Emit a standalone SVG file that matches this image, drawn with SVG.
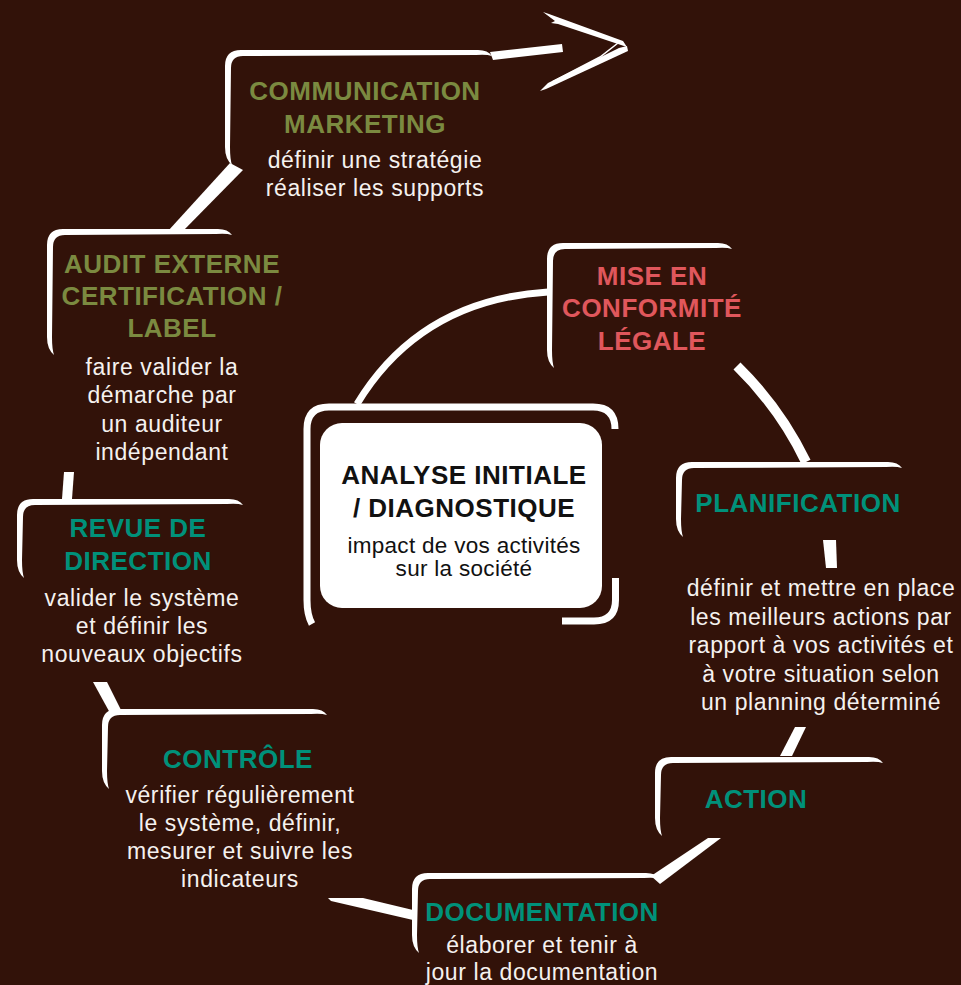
<svg xmlns="http://www.w3.org/2000/svg" width="961" height="985" viewBox="0 0 961 985">
<style>
.h{font-family:"Liberation Sans",Arial,sans-serif;font-weight:bold;font-size:26px;letter-spacing:0.5px;text-anchor:middle}
.b{font-family:"Liberation Sans",Arial,sans-serif;font-size:23px;letter-spacing:0.6px;text-anchor:middle;fill:#f5f1ef}
.olive{fill:#7b8a40}.teal{fill:#00917a}.red{fill:#e0575c}
.br{fill:#ffffff}
.ln{fill:none;stroke:#ffffff;stroke-linecap:butt}
</style>
<rect width="961" height="985" fill="#321209"/>
<g id="connectors">
<polygon class="br" points="490,52 562,44 563,52 493,60"/>
<polygon class="br" points="543,12 549,14 623,41 627,47 558,24 551,23 555,21"/>
<polygon class="br" points="627,46 628,51 546,89 540,91 548,83 619,48"/>
<polyline class="ln" points="618,43 600,57 552,82" stroke-width="1.5"/>
<polygon class="br" points="230,163 243,170 183,231 168,231"/>
<polygon class="br" points="64,472 74,472 72,499 62,499"/>
<polygon class="br" points="93,682 107,682 121,710 110,713"/>
<polygon class="br" points="328,898 363,898 413,910 413,920 331,901"/>
<polygon class="br" points="651,876 708,838 721,838 660,884"/>
<polygon class="br" points="780,756 792,756 806,727 795,727"/>
<polygon class="br" points="823,540 836,540 837,568 826,568"/>
<path class="ln" d="M737,366 Q780,408 806,462" stroke-width="10"/>
<path class="ln" d="M548,292 Q420,300 357,404" stroke-width="7"/>
</g>
<g id="n-communication">
<path class="br" d="M232,165 Q225,159 225,147 L225,66 Q225,50 241,50 L478,50 Q488,50 492,56 Q486,54 476,55 L243,56 Q231,56 231,68 L230,147 Q230,159 232,165 Z"/>
<text class="h olive" x="365" y="100">COMMUNICATION</text>
<text class="h olive" x="365" y="133">MARKETING</text>
<text class="b" x="375" y="168">définir une stratégie</text>
<text class="b" x="375" y="196">réaliser les supports</text>
</g>
<g id="n-audit">
<path class="br" d="M54,355 Q47,349 47,337 L47,245 Q47,229 63,229 L218,229 Q228,229 232,235 Q226,233 216,234 L65,235 Q53,235 53,247 L52,337 Q52,349 54,355 Z"/>
<text class="h olive" x="172" y="273">AUDIT EXTERNE</text>
<text class="h olive" x="172" y="305">CERTIFICATION /</text>
<text class="h olive" x="172" y="337">LABEL</text>
<text class="b" x="162" y="375">faire valider la</text>
<text class="b" x="162" y="403">démarche par</text>
<text class="b" x="162" y="432">un auditeur</text>
<text class="b" x="162" y="460">indépendant</text>
</g>
<g id="n-revue">
<path class="br" d="M24,578 Q17,572 17,560 L17,515 Q17,499 33,499 L229,499 Q239,499 243,505 Q237,503 227,504 L35,505 Q23,505 23,517 L22,560 Q22,572 24,578 Z"/>
<text class="h teal" x="138" y="537">REVUE DE</text>
<text class="h teal" x="138" y="570">DIRECTION</text>
<text class="b" x="142" y="606">valider le système</text>
<text class="b" x="142" y="634">et définir les</text>
<text class="b" x="142" y="662">nouveaux objectifs</text>
</g>
<g id="n-controle">
<path class="br" d="M109,789 Q102,783 102,771 L102,725 Q102,709 118,709 L313,709 Q323,709 327,715 Q321,713 311,714 L120,715 Q108,715 108,727 L107,771 Q107,783 109,789 Z"/>
<text class="h teal" x="238" y="768">CONTRÔLE</text>
<text class="b" x="240" y="803">vérifier régulièrement</text>
<text class="b" x="240" y="831">le système, définir,</text>
<text class="b" x="240" y="859">mesurer et suivre les</text>
<text class="b" x="240" y="887">indicateurs</text>
</g>
<g id="n-documentation">
<path class="br" d="M419,953 Q412,947 412,935 L412,889 Q412,873 428,873 L646,873 Q656,873 660,879 Q654,877 644,878 L430,879 Q418,879 418,891 L417,935 Q417,947 419,953 Z"/>
<text class="h teal" x="542" y="921">DOCUMENTATION</text>
<text class="b" x="542" y="953">élaborer et tenir à</text>
<text class="b" x="542" y="980">jour la documentation</text>
</g>
<g id="n-action">
<path class="br" d="M662,836 Q655,830 655,818 L655,773 Q655,757 671,757 L869,757 Q879,757 883,763 Q877,761 867,762 L673,763 Q661,763 661,775 L660,818 Q660,830 662,836 Z"/>
<text class="h teal" x="756" y="808">ACTION</text>
</g>
<g id="n-planification">
<path class="br" d="M683,537 Q676,531 676,519 L676,478 Q676,462 692,462 L888,462 Q898,462 902,468 Q896,466 886,467 L694,468 Q682,468 682,480 L681,519 Q681,531 683,537 Z"/>
<text class="h teal" x="798" y="512">PLANIFICATION</text>
<text class="b" x="821" y="596">définir et mettre en place</text>
<text class="b" x="821" y="625">les meilleurs actions par</text>
<text class="b" x="821" y="653">rapport à vos activités et</text>
<text class="b" x="821" y="682">à votre situation selon</text>
<text class="b" x="821" y="710">un planning déterminé</text>
</g>
<g id="n-mise">
<path class="br" d="M554,368 Q547,362 547,350 L547,259 Q547,243 563,243 L718,243 Q728,243 732,249 Q726,247 716,248 L565,249 Q553,249 553,261 L552,350 Q552,362 554,368 Z"/>
<text class="h red" x="652" y="285">MISE EN</text>
<text class="h red" x="652" y="317">CONFORMITÉ</text>
<text class="h red" x="652" y="350">LÉGALE</text>
</g>
<g id="n-analyse">
<path class="ln" d="M312,624 Q307,615 307,600 L307,429 Q307,407 329,407 L593,407 Q615,407 615,429" stroke-width="7"/>
<path class="ln" d="M615.5,578 L615.5,600 Q615.5,621 594,621 L562,621" stroke-width="7"/>
<rect x="320" y="423" width="282" height="185" rx="22" fill="#ffffff"/>
<text class="h" x="464" y="484" fill="#111111">ANALYSE INITIALE</text>
<text class="h" x="464" y="517" fill="#111111">/ DIAGNOSTIQUE</text>
<text class="b" x="464" y="553" style="fill:#111111;font-size:22.5px;letter-spacing:0.3px">impact de vos activités</text>
<text class="b" x="464" y="576" style="fill:#111111;font-size:22.5px;letter-spacing:0.3px">sur la société</text>
</g>
</svg>
